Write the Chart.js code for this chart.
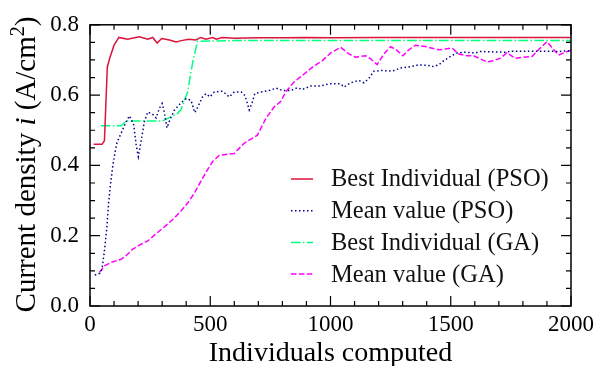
<!DOCTYPE html>
<html>
<head>
<meta charset="utf-8">
<script src="https://cdn.jsdelivr.net/npm/chart.js@4.4.0/dist/chart.umd.min.js"></script>
<style>
  html, body { margin: 0; padding: 0; background: #fff; }
</style>
</head>
<body>
<canvas id="chart" width="599" height="366"></canvas>
<script>
// values
const psoBestX = [15, 50, 60, 72, 82, 100, 120, 156, 205, 240, 261, 279, 298, 330, 358, 380, 410, 440, 460, 482, 510, 525, 550, 600, 700, 800, 900, 1000, 1200, 1500, 1800, 2000];
const psoBestY = [0.46, 0.46, 0.47, 0.68, 0.705, 0.742, 0.764, 0.759, 0.766, 0.759, 0.764, 0.748, 0.761, 0.757, 0.751, 0.755, 0.759, 0.757, 0.764, 0.759, 0.764, 0.759, 0.764, 0.762, 0.763, 0.763, 0.764, 0.763, 0.764, 0.764, 0.764, 0.764];

const psoMeanX = [20, 40, 50, 60, 70, 77, 85, 95, 105, 112, 129, 150, 164, 182, 192, 201, 212, 226, 240, 261, 275, 288, 300, 309, 320, 334, 351, 378, 400, 420, 436, 448, 468, 482, 499, 517, 551, 579, 600, 629, 645, 662, 675, 685, 710, 745, 774, 800, 835, 862, 883, 918, 959, 994, 1042, 1056, 1084, 1118, 1139, 1160, 1180, 1215, 1256, 1291, 1333, 1367, 1409, 1429, 1450, 1471, 1499, 1526, 1561, 1602, 1623, 1727, 1754, 1920, 1948, 1982, 2000];
const psoMeanY = [0.088, 0.093, 0.105, 0.157, 0.223, 0.29, 0.345, 0.40, 0.44, 0.465, 0.491, 0.524, 0.541, 0.515, 0.458, 0.425, 0.467, 0.524, 0.552, 0.545, 0.535, 0.562, 0.576, 0.552, 0.507, 0.533, 0.557, 0.578, 0.59, 0.585, 0.55, 0.566, 0.595, 0.604, 0.595, 0.609, 0.611, 0.595, 0.609, 0.609, 0.598, 0.558, 0.58, 0.604, 0.609, 0.613, 0.62, 0.613, 0.613, 0.621, 0.616, 0.626, 0.626, 0.632, 0.632, 0.623, 0.635, 0.642, 0.635, 0.648, 0.668, 0.67, 0.668, 0.677, 0.681, 0.686, 0.684, 0.681, 0.686, 0.698, 0.71, 0.72, 0.722, 0.72, 0.724, 0.722, 0.725, 0.725, 0.724, 0.726, 0.725];

const gaBestX = [45, 130, 150, 300, 337, 364, 378, 392, 406, 427, 447, 600, 1000, 1500, 2000];
const gaBestY = [0.513, 0.513, 0.526, 0.526, 0.538, 0.548, 0.558, 0.585, 0.609, 0.693, 0.753, 0.755, 0.755, 0.755, 0.755];

const gaMeanX = [40, 60, 88, 129, 150, 178, 205, 240, 275, 309, 344, 378, 406, 434, 461, 489, 510, 537, 572, 600, 641, 696, 731, 765, 793, 814, 848, 890, 924, 966, 1001, 1042, 1077, 1104, 1146, 1167, 1194, 1222, 1250, 1277, 1301, 1326, 1354, 1395, 1450, 1477, 1505, 1533, 1568, 1595, 1623, 1651, 1678, 1706, 1733, 1768, 1803, 1838, 1868, 1900, 1920, 1948, 1976, 2000];
const gaMeanY = [0.096, 0.114, 0.124, 0.133, 0.143, 0.162, 0.173, 0.185, 0.206, 0.225, 0.246, 0.27, 0.293, 0.321, 0.355, 0.388, 0.411, 0.428, 0.432, 0.434, 0.463, 0.486, 0.533, 0.566, 0.582, 0.609, 0.637, 0.66, 0.679, 0.698, 0.72, 0.736, 0.717, 0.708, 0.712, 0.703, 0.687, 0.717, 0.738, 0.727, 0.712, 0.729, 0.742, 0.738, 0.729, 0.731, 0.734, 0.717, 0.712, 0.712, 0.703, 0.694, 0.698, 0.705, 0.72, 0.705, 0.708, 0.71, 0.731, 0.752, 0.736, 0.714, 0.722, 0.728];

const seriesLabels = ["Best Individual (PSO)", "Mean value (PSO)", "Best Individual (GA)", "Mean value (GA)"];
const xTickValues = [0, 500, 1000, 1500, 2000];
const yTickValues = [0.0, 0.2, 0.4, 0.6, 0.8];
const xMinorStep = 100;
const yMinorStep = 0.05;

const FONT = "'Liberation Serif', 'Times New Roman', serif";

const pts = (xs, ys) => xs.map((x, i) => ({ x: x, y: ys[i] }));

function line(label, xs, ys, color, dash) {
  return {
    label: label,
    data: pts(xs, ys),
    borderColor: color,
    backgroundColor: color,
    borderWidth: 1.5,
    borderDash: dash,
    pointRadius: 0,
    tension: 0,
    fill: false,
  };
}

// frame + inward ticks on all four sides
const frameTicks = {
  id: "frameTicks",
  afterDraw(chart) {
    const { ctx, chartArea: a, scales } = chart;
    const xs = scales.x, ys = scales.y;
    ctx.save();
    ctx.strokeStyle = "#000";
    ctx.lineWidth = 1.2;
    ctx.setLineDash([]);
    ctx.beginPath();
    for (let v = xs.min; v <= xs.max + 1e-9; v += xMinorStep) {
      const px = xs.getPixelForValue(v);
      const len = xTickValues.includes(v) ? 10 : 5;
      ctx.moveTo(px, a.bottom); ctx.lineTo(px, a.bottom - len);
      ctx.moveTo(px, a.top); ctx.lineTo(px, a.top + len);
    }
    for (let i = 0; i * yMinorStep <= ys.max + 1e-9; i++) {
      const v = i * yMinorStep;
      const py = ys.getPixelForValue(v);
      const major = yTickValues.some(t => Math.abs(t - v) < 1e-6);
      const len = major ? 10 : 5;
      ctx.moveTo(a.left, py); ctx.lineTo(a.left + len, py);
      ctx.moveTo(a.right, py); ctx.lineTo(a.right - len, py);
    }
    ctx.stroke();
    ctx.lineWidth = 1.5;
    ctx.strokeRect(a.left, a.top, a.right - a.left, a.bottom - a.top);
    ctx.restore();
  },
};

// y title with italic i and superscript 2
const yTitle = {
  id: "yTitle",
  afterDraw(chart) {
    const { ctx, chartArea: a } = chart;
    const size = 29;
    const parts = [
      { t: "Current density ", f: size + "px " + FONT, dy: 0 },
      { t: "i", f: "italic " + size + "px " + FONT, dy: 0 },
      { t: " (A/cm", f: size + "px " + FONT, dy: 0 },
      { t: "2", f: Math.round(size * 0.7) + "px " + FONT, dy: -11 },
      { t: ")", f: size + "px " + FONT, dy: 0 },
    ];
    ctx.save();
    let total = 0;
    parts.forEach(p => { ctx.font = p.f; p.w = ctx.measureText(p.t).width; total += p.w; });
    ctx.translate(35, 164.5);
    ctx.rotate(-Math.PI / 2);
    ctx.fillStyle = "#000";
    ctx.textBaseline = "alphabetic";
    let x = -total / 2;
    parts.forEach(p => { ctx.font = p.f; ctx.fillText(p.t, x, p.dy); x += p.w; });
    ctx.restore();
  },
};

// legend inside the plot, lower right
const innerLegend = {
  id: "innerLegend",
  afterDraw(chart) {
    const { ctx, chartArea: a } = chart;
    ctx.save();
    ctx.font = "24.5px " + FONT;
    ctx.textBaseline = "middle";
    chart.data.datasets.forEach((ds, i) => {
      const y = a.bottom - 127 + i * 31.7;
      const x0 = a.right - 280;
      ctx.strokeStyle = ds.borderColor;
      ctx.lineWidth = 1.5;
      ctx.setLineDash(ds.borderDash || []);
      ctx.beginPath();
      ctx.moveTo(x0, y); ctx.lineTo(x0 + 22, y);
      ctx.stroke();
      ctx.setLineDash([]);
      ctx.fillStyle = "#111";
      ctx.fillText(ds.label, x0 + 40, y + 1);
    });
    ctx.restore();
  },
};

new Chart(document.getElementById("chart"), {
  type: "line",
  data: {
    datasets: [
      line(seriesLabels[0], psoBestX, psoBestY, "#DC143C", []),
      line(seriesLabels[1], psoMeanX, psoMeanY, "#00008B", [1.5, 2.5]),
      line(seriesLabels[2], gaBestX, gaBestY, "#00FF7F", [9.6, 2.4, 1.5, 2.4]),
      line(seriesLabels[3], gaMeanX, gaMeanY, "#FF00FF", [5.5, 2.4]),
    ],
  },
  options: {
    responsive: false,
    animation: false,
    layout: { padding: { top: 22, right: 26, left: 0, bottom: 0 } },
    plugins: { legend: { display: false }, tooltip: { enabled: false } },
    scales: {
      x: {
        type: "linear",
        min: 0,
        max: 2000,
        afterBuildTicks: (s) => { s.ticks = xTickValues.map(v => ({ value: v })); },
        ticks: { color: "#000", font: { family: FONT, size: 23 }, padding: 5, maxRotation: 0, autoSkip: false, callback: (v) => String(v) },
        grid: { display: false, drawTicks: false },
        border: { display: false },
        title: { display: true, text: "Individuals computed", color: "#000", font: { family: FONT, size: 28, lineHeight: 0.9 }, padding: 0 },
        afterFit: (s) => { s.height = 60; },
      },
      y: {
        type: "linear",
        min: 0,
        max: 0.8,
        afterBuildTicks: (s) => { s.ticks = yTickValues.map(v => ({ value: v })); },
        ticks: { color: "#000", font: { family: FONT, size: 23 }, padding: 11, callback: (v) => v.toFixed(1) },
        grid: { display: false, drawTicks: false },
        border: { display: false },
        afterFit: (s) => { s.width = 90; },
      },
    },
  },
  plugins: [frameTicks, yTitle, innerLegend],
});
</script>
</body>
</html>
